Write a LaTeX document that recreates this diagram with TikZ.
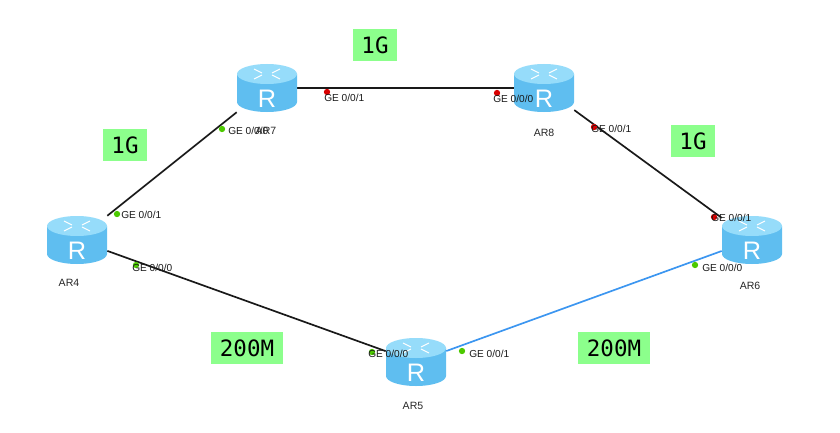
\documentclass[tikz,border=0pt]{standalone}
\usepackage{fontspec}
\setmainfont{Liberation Sans}
\newfontfamily\monof{DejaVu Sans Mono}
\definecolor{rside}{RGB}{95,190,240}
\definecolor{rtop}{RGB}{150,220,250}
\begin{document}
\begin{tikzpicture}[x=0.025cm,y=-0.025cm,
  lbl/.style={font=\fontsize{7.2}{8}\selectfont, text=black!90, inner sep=0, anchor=west},
  nm/.style={font=\fontsize{7.5}{8}\selectfont, text=black!85, inner sep=0},
  bw/.style={fill=green!45!white, draw=none, font=\monof\fontsize{16}{17}\selectfont, inner xsep=6pt, inner ysep=5pt},
  rtr/.style={draw=none, minimum width=1.5cm, minimum height=1.2cm, inner sep=0},
  lk/.style={line width=1.2pt, black!90},
  rd/.style={fill=red!85!black, draw=none, circle, minimum size=4.5pt, inner sep=0},
  gd/.style={fill=green!70!black!70!yellow, draw=none, circle, minimum size=4.5pt, inner sep=0}]
\useasboundingbox (0,0) rectangle (840,433);
\tikzset{router/.pic={
  \fill[rside] (-30,-14) -- (-30,14) arc[start angle=180,end angle=0,x radius=30,y radius=10] -- (30,-14) -- cycle;
  \fill[rtop] (0,-14) ellipse[x radius=30,y radius=10];
  \draw[white, line width=0.7pt] (-13,-19) -- (-5,-15) (13,-9) -- (5,-13) (-13,-9)--(-5,-13) (13,-19)--(5,-15);
  \node[white, font=\fontsize{18}{18}\selectfont] at (0,11) {R};
}}
\foreach \n/\x/\y in {r7/267/88, r8/544/88, r4/77/240, r6/752/240, r5/416/362}{
  \node[rtr] (\n) at (\x,\y) {};
}
\draw[lk] (r7) -- (r8);
\draw[lk] (r7) -- (r4);
\draw[lk] (r8) -- (r6);
\draw[lk] (r4) -- (r5);
\draw[line width=1.2pt, color={rgb,255:red,60;green,150;blue,240}] (r5) -- (r6);
\foreach \x/\y in {267/88, 544/88, 77/240, 752/240, 416/362}{ \pic at (\x,\y) {router}; }
\node[rd] at (327,92) {}; \node[rd] at (497,93) {}; \node[rd] at (594,127) {}; \node[rd] at (714,217) {};
\node[gd] at (222,129) {}; \node[gd] at (117,214) {}; \node[gd] at (136,265) {};
\node[gd] at (372,352) {}; \node[gd] at (462,351) {}; \node[gd] at (695,265) {};
\node[lbl] at (324,98) {GE 0/0/1};
\node[lbl] at (493,99) {GE 0/0/0};
\node[lbl] at (591,129) {GE 0/0/1};
\node[lbl] at (711,218) {GE 0/0/1};
\node[lbl] at (228,131) {GE 0/0/0};
\node[nm] at (266,131) {AR7};
\node[lbl] at (121,215) {GE 0/0/1};
\node[lbl] at (132,268) {GE 0/0/0};
\node[lbl] at (368,354) {GE 0/0/0};
\node[lbl] at (469,354) {GE 0/0/1};
\node[lbl] at (702,268) {GE 0/0/0};
\node[nm] at (544,133) {AR8};
\node[nm] at (69,283) {AR4};
\node[nm] at (750,286) {AR6};
\node[nm] at (413,406) {AR5};
\node[bw] at (375,45) {1G};
\node[bw] at (125,145) {1G};
\node[bw] at (693,141) {1G};
\node[bw] at (247,348) {200M};
\node[bw] at (614,348) {200M};
\end{tikzpicture}
\end{document}
